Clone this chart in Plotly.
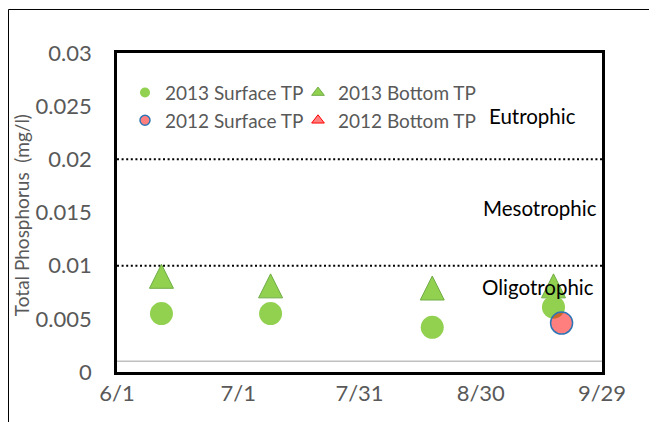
import plotly.graph_objects as go

# ---- data ----
dates_2013 = ["2013-06-12", "2013-07-09", "2013-08-18", "2013-09-17"]
surface_2013 = [0.0055, 0.0055, 0.0042, 0.0061]
bottom_2013 = [0.0090, 0.0081, 0.0079, 0.0081]
dates_2012 = ["2013-09-19"]
surface_2012 = [0.0046]
bottom_2012 = []

x_tick_vals = ["2013-06-01", "2013-07-01", "2013-07-31", "2013-08-30", "2013-09-29"]
x_tick_text = ["6/1", "7/1", "7/31", "8/30", "9/29"]
y_tick_vals = [0, 0.005, 0.01, 0.015, 0.02, 0.025, 0.03]
y_tick_text = ["0", "0.005", "0.01", "0.015", "0.02", "0.025", "0.03"]

thresholds = [0.01, 0.02]
detection_line = 0.001
zone_labels = ["Eutrophic", "Mesotrophic", "Oligotrophic"]
y_title = "Total Phosphorus  (mg/l)"

FONT = "Lato"
GRAY = "#595959"
GREEN = "#92D050"
GREEN_EDGE = "#70AD47"
PINK = "rgba(255,0,0,0.5)"

fig = go.Figure()

# data traces (triangle drawn as an equal-sided arrow head, centred on the value)
fig.add_trace(go.Scatter(
    x=dates_2013, y=bottom_2013, mode="markers", showlegend=False,
    marker=dict(symbol="arrow-down", angle=180, size=24, standoff=12, color=GREEN,
                line=dict(color=GREEN_EDGE, width=1)),
))
fig.add_trace(go.Scatter(
    x=dates_2013, y=surface_2013, mode="markers", showlegend=False,
    marker=dict(symbol="circle", size=23, color=GREEN, line=dict(width=0)),
))
fig.add_trace(go.Scatter(
    x=dates_2012, y=surface_2012, mode="markers", showlegend=False,
    marker=dict(symbol="circle", size=22, color=PINK,
                line=dict(color="#2E75B6", width=1.5)),
))

# legend entries (two columns)
fig.add_trace(go.Scatter(x=[None], y=[None], mode="markers", name="2013 Surface TP",
                         legend="legend",
                         marker=dict(symbol="circle", size=10, color=GREEN)))
fig.add_trace(go.Scatter(x=[None], y=[None], mode="markers", name="2012 Surface TP",
                         legend="legend",
                         marker=dict(symbol="circle", size=10, color=PINK,
                                     line=dict(color="#2E75B6", width=1.5))))
fig.add_trace(go.Scatter(x=[None], y=[None], mode="markers", name="2013 Bottom TP",
                         legend="legend2",
                         marker=dict(symbol="triangle-up", size=11, color=GREEN,
                                     line=dict(color=GREEN_EDGE, width=1))))
fig.add_trace(go.Scatter(x=bottom_2012 or [None], y=bottom_2012 or [None], mode="markers",
                         name="2012 Bottom TP", legend="legend2",
                         marker=dict(symbol="triangle-up", size=11, color=PINK,
                                     line=dict(color="#FF0000", width=1))))

shapes = []
for t in thresholds:
    shapes.append(dict(type="line", xref="paper", x0=0, x1=1, yref="y", y0=t, y1=t,
                       line=dict(color="black", width=2, dash="2px,2.6px"), layer="below"))
shapes.append(dict(type="line", xref="paper", x0=0, x1=1, yref="y",
                   y0=detection_line, y1=detection_line,
                   line=dict(color="#BFBFBF", width=1.5), layer="below"))
# outer chart frame
shapes.append(dict(type="rect", xref="paper", yref="paper", x0=-0.2237, x1=1.3,
                   y0=-0.4, y1=1.1364, line=dict(color="black", width=1),
                   fillcolor="rgba(0,0,0,0)"))

annotations = []
for label, (ax, ay) in zip(zone_labels, [(0.856, 0.8025), (0.873, 0.514), (0.868, 0.266)]):
    annotations.append(dict(text=label, xref="paper", yref="paper", x=ax, y=ay,
                            xanchor="center", yanchor="middle", showarrow=False,
                            font=dict(family=FONT, size=20.5, color="black")))
annotations.append(dict(text=y_title, xref="paper", yref="paper", x=-0.197, y=0.493,
                        xanchor="center", yanchor="middle", showarrow=False, textangle=-90,
                        font=dict(family=FONT, size=19, color=GRAY)))

legend_common = dict(orientation="v", yanchor="top", xanchor="left", itemsizing="trace",
                     font=dict(family=FONT, size=19, color=GRAY),
                     bgcolor="rgba(0,0,0,0)", tracegroupgap=0)

fig.update_layout(
    width=657, height=422,
    margin=dict(l=109, r=63, t=45, b=58),
    paper_bgcolor="white", plot_bgcolor="white",
    font=dict(family=FONT, color=GRAY, size=19),
    shapes=shapes, annotations=annotations,
    legend=dict(x=0.0165, y=0.935, **legend_common),
    legend2=dict(x=0.3732, y=0.935, **legend_common),
    xaxis=dict(type="date", range=["2013-06-01", "2013-09-29"],
               tickmode="array", tickvals=x_tick_vals, ticktext=x_tick_text,
               showgrid=False, zeroline=False, ticks="",
               showline=True, mirror=True, linecolor="black", linewidth=2.5,
               tickfont=dict(family=FONT, size=22, color=GRAY), ticklabelstandoff=0),
    yaxis=dict(range=[0, 0.03], tickmode="array", tickvals=y_tick_vals, ticktext=y_tick_text,
               showgrid=False, zeroline=False, ticks="",
               showline=True, mirror=True, linecolor="black", linewidth=2.5,
               tickfont=dict(family=FONT, size=22, color=GRAY), ticklabelstandoff=18),
)

fig.write_html("out.html")
